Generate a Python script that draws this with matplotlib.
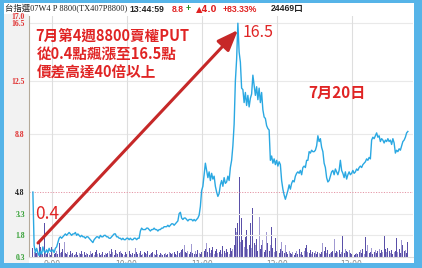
import matplotlib
matplotlib.use("Agg")
import matplotlib.pyplot as plt
from matplotlib.patches import Rectangle
import numpy as np

# ---------------- data ----------------
minutes = list(range(0, 301))  # minutes since 08:45
price = [
    4.8, 1.1, 0.6, 0.9, 0.6, 0.4, 0.7, 0.5, 1.0, 0.7,
    0.6, 0.8, 0.6, 0.9, 0.7, 0.7, 0.8, 0.6, 0.9, 1.0,
    1.3, 1.6, 1.7, 1.6, 1.7, 1.8, 1.9, 1.8, 1.9, 2.0,
    1.9, 1.8, 1.9, 1.9, 2.0, 1.8, 1.9, 1.8, 1.7, 1.8,
    1.7, 1.7, 1.6, 1.7, 1.7, 1.6, 1.5, 1.4, 1.3, 1.5,
    1.6, 1.7, 1.7, 1.6, 1.8, 1.7, 1.7, 1.8, 1.8, 1.7,
    1.7, 1.6, 1.6, 1.7, 1.8, 1.9, 1.9, 1.7, 1.7, 1.6,
    1.6, 1.5, 1.6, 1.5, 1.5, 1.6, 1.6, 1.5, 1.6, 1.5,
    1.5, 1.6, 1.6, 1.5, 1.6, 1.6, 2.1, 2.3, 2.2, 2.2,
    2.2, 2.3, 2.3, 2.2, 2.1, 2.2, 2.2, 2.3, 2.2, 2.2,
    2.1, 2.2, 2.2, 2.3, 2.3, 2.4, 2.4, 2.4, 2.5, 2.4,
    2.5, 2.6, 2.6, 2.5, 2.6, 2.7, 2.8, 3.3, 3.4, 3.0,
    2.9, 3.0, 3.0, 2.9, 2.8, 2.9, 2.9, 2.9, 2.8, 2.9,
    2.8, 2.9, 3.0, 3.2, 3.8, 4.9, 5.2, 6.0, 6.8, 6.3,
    5.8, 6.2, 5.6, 6.1, 5.7, 5.9, 5.2, 4.8, 4.5, 4.7,
    5.3, 5.6, 5.2, 5.8, 5.4, 5.5, 5.9, 5.6, 6.5, 7.0,
    8.0, 9.5, 12.5, 14.0, 16.5, 14.5, 13.8, 12.0, 11.9, 11.0,
    11.7, 10.8, 11.5, 10.7, 11.3, 11.6, 12.9, 12.2, 11.5, 12.1,
    11.2, 12.0, 11.0, 11.7, 10.5, 10.0, 9.9, 9.4, 9.2, 9.1,
    7.0, 7.3, 6.8, 7.1, 6.7, 7.0, 6.6, 6.9, 6.7, 5.6,
    5.0, 4.6, 4.3, 4.6, 4.9, 5.3, 5.0, 5.4, 5.6, 5.5,
    5.9, 6.1, 6.2, 6.1, 6.3, 6.0, 6.5, 6.6, 6.5, 7.0,
    7.0, 7.6, 7.5, 7.7, 7.6, 7.6, 7.7, 8.0, 8.7, 8.3,
    8.5, 7.9, 7.6, 6.8, 6.5, 5.8, 5.5, 5.6, 5.9, 6.2,
    6.3, 6.0, 6.4, 6.2, 6.0, 6.3, 7.0, 6.3, 6.1, 5.8,
    6.2, 5.7, 6.0, 6.2, 6.0, 6.1, 6.3, 6.1, 6.2, 6.4,
    6.3, 6.5, 6.6, 6.5, 6.7, 6.8, 6.9, 7.1, 7.0, 7.2,
    7.1, 8.4, 8.6, 8.5, 8.7, 8.9, 8.6, 8.7, 8.3, 8.5,
    8.4, 8.2, 8.4, 8.3, 8.5, 8.3, 8.4, 8.1, 8.5, 8.2,
    7.5, 7.7, 7.6, 7.8, 7.7, 8.0, 8.3, 8.4, 8.6, 8.9,
    9.0,
]
volume = [
    90, 50, 80, 40, 60, 150, 100, 40, 30, 340, 50, 30, 60, 40, 20, 100, 50, 30, 40, 60,
    30, 140, 40, 50, 80, 150, 40, 30, 50, 20, 60, 30, 40, 20, 30, 50, 20, 40, 30, 60,
    30, 50, 20, 40, 30, 20, 60, 30, 40, 20, 50, 70, 30, 40, 20, 30, 50, 20, 40, 30,
    40, 60, 30, 80, 50, 20, 70, 40, 30, 50, 60, 40, 30, 20, 50, 30, 40, 60, 30, 20,
    40, 30, 90, 50, 30, 40, 60, 20, 30, 50, 40, 30, 60, 20, 30, 40, 50, 30, 20, 70,
    30, 20, 40, 30, 20, 30, 40, 20, 30, 50, 40, 30, 40, 50, 30, 20, 60, 40, 50, 70,
    80, 120, 50, 40, 60, 30, 50, 130, 40, 30, 60, 30, 70, 40, 30, 50, 40, 60, 80, 140,
    50, 90, 40, 70, 100, 30, 60, 80, 40, 50, 70, 30, 110, 60, 40, 80, 50, 30, 90, 60,
    80, 120, 290, 250, 340, 800, 150, 390, 170, 100, 200, 270, 80, 120, 340, 90, 490, 140, 120, 180,
    60, 400, 80, 120, 170, 50, 70, 250, 140, 60, 120, 300, 90, 50, 190, 60, 140, 40, 80, 150,
    60, 40, 120, 50, 30, 60, 40, 30, 50, 20, 40, 60, 30, 80, 30, 50, 20, 60, 90, 120,
    50, 40, 70, 30, 50, 40, 60, 30, 50, 40, 30, 50, 140, 60, 100, 40, 70, 30, 40, 50,
    60, 180, 40, 60, 50, 70, 30, 50, 220, 40, 80, 60, 50, 70, 40, 30, 90, 20, 30, 40,
    30, 50, 70, 40, 80, 30, 200, 60, 120, 40, 50, 90, 30, 50, 70, 40, 60, 80, 40, 70,
    50, 210, 80, 50, 90, 60, 40, 70, 30, 50, 60, 190, 50, 80, 40, 170, 120, 60, 70, 40,
    150,
]
time_ticks = [15, 75, 135, 195, 255]
time_labels = ["9:00", "10:00", "11:00", "12:00", "13:00"]
price_ticks = [0.3, 1.8, 3.3, 4.8, 8.8, 12.5, 16.5, 17.0]
price_tick_labels = ["0.3", "1.8", "3.3", "4.8", "8.8", "12.5", "16.5", "17.0"]
ref_price = 4.8
title_parts = ["台指選07W4 P 8800(TX407P8800)", "13:44:59", "8.8", "+", "▲4.0", "+83.33%", "24469口"]
note_lines = ["7月第4週8800賣權PUT", "從0.4點飆漲至16.5點", "價差高達40倍以上"]
low_label = "0.4"
high_label = "16.5"
date_label = "7月20日"

# ---------------- layout ----------------
W, H = 422, 268
def fx(px):
    return px / W
def fy(py):
    return 1 - py / H

fig = plt.figure(figsize=(W / 100, H / 100), dpi=100)
fig.patch.set_facecolor("white")

# left grey label band
fig.add_artist(Rectangle((fx(4), fy(263)), fx(29) - fx(4), fy(14) - fy(263),
                         transform=fig.transFigure, facecolor="#f2f2f2",
                         edgecolor="none", zorder=-5))

ax = fig.add_axes([fx(29), fy(257), fx(413) - fx(29), fy(16) - fy(257)])
ax2 = ax.twinx()
ax.set_zorder(2)
ax2.set_zorder(1)
ax.patch.set_visible(False)

# volume bars
dark, light = "#5a50a8", "#a19ad2"
bar_colors = [dark if i % 3 != 1 else light for i in range(len(volume))]
ax2.bar(minutes, volume, width=0.85, color=bar_colors, linewidth=0)
ax2.set_ylim(0, 2410)
ax2.set_yticks([])
for s in ax2.spines.values():
    s.set_visible(False)

# grid
for v in [1.8, 3.3, 8.8, 12.5, 16.5]:
    ax.axhline(v, color="#e9e9e9", lw=0.8, zorder=0)
ax.axhline(ref_price, color="#e596a6", lw=0.7, ls=(0, (1.2, 1.5)), zorder=1)
for t in time_ticks:
    ax.axvline(t, color="#dedede", lw=0.8, zorder=0)

# price line
ax.plot(minutes, price, color="#2aa8e2", lw=1.0, zorder=3)

ax.set_xlim(-3.1, 304.1)
ax.set_ylim(0.3, 17.0)

ax.set_yticks(price_ticks)
ax.set_yticklabels(price_tick_labels, family="Liberation Serif",
                   fontweight="bold", fontsize=5.5)
tick_cols = ["#35a035", "#35a035", "#35a035", "#222222",
             "#e03030", "#e03030", "#e03030", "#e03030"]
for lab, c in zip(ax.get_yticklabels(), tick_cols):
    lab.set_color(c)
ax.tick_params(axis="y", length=0, pad=3)
ax.set_xticks(time_ticks)
ax.set_xticklabels(time_labels, fontsize=5.5, color="#888888")
ax.tick_params(axis="x", length=0, pad=2.5)

ax.spines["left"].set_color("#b5aa9a")
ax.spines["left"].set_linewidth(0.8)
ax.spines["bottom"].set_color("#dddddd")
ax.spines["bottom"].set_linewidth(0.8)
ax.spines["top"].set_visible(False)
ax.spines["right"].set_visible(False)

red = "#e02424"
cjk = ["Noto Sans CJK TC", "DejaVu Sans"]
note_y = [15.64, 14.39, 13.1]
note_x = [1.9, 3.5, 3.2]
for txt, xx, yy in zip(note_lines, note_x, note_y):
    ax.text(xx, yy, txt, color=red, fontsize=10.5, family=cjk,
            fontweight="bold", va="center", ha="left", zorder=5)
ax.text(1.7, 3.26, low_label, color=red, fontsize=12.5, family=cjk,
        va="center", ha="left", zorder=5)
ax.text(168.0, 15.85, high_label, color=red, fontsize=11.5, family=cjk,
        va="center", ha="left", zorder=5)
ax.text(220.0, 11.68, date_label, color=red, fontsize=11, family=cjk,
        fontweight="bold", va="center", ha="left", zorder=5)

ax.annotate("", xy=(164.1, 16.03), xytext=(4.1, 1.27),
            arrowprops=dict(arrowstyle="-|>,head_length=0.9,head_width=0.35",
                            color="#c62828", lw=2.2, shrinkA=0, shrinkB=0,
                            mutation_scale=14),
            zorder=6)

# title row
ty = fy(9)
serif_cjk = ["Liberation Serif", "Noto Sans CJK TC"]
sans_b = ["Liberation Sans", "DejaVu Sans", "Noto Sans CJK TC"]
fig.text(fx(5), ty, title_parts[0], fontsize=6, family=serif_cjk,
         color="#222222", va="center", ha="left")
fig.text(fx(129), ty, title_parts[1], fontsize=6.2, family=sans_b,
         fontweight="bold", color="#222222", va="center", ha="left")
fig.text(fx(172), ty, title_parts[2], fontsize=6.2, family=sans_b,
         fontweight="bold", color="#e02020", va="center", ha="left")
fig.text(fx(185.5), ty, title_parts[3], fontsize=6.2, family=sans_b,
         fontweight="bold", color="#209020", va="center", ha="left")
fig.text(fx(196), ty, title_parts[4], fontsize=6.0, family=["DejaVu Sans"],
         fontweight="bold", color="#e02020", va="center", ha="left")
fig.text(fx(223), ty, title_parts[5], fontsize=6.2, family=sans_b,
         fontweight="bold", color="#e02020", va="center", ha="left")
fig.text(fx(271), ty, title_parts[6], fontsize=6.2, family=sans_b,
         fontweight="bold", color="#222222", va="center", ha="left")

# blue frame
frame = "#56b4e8"
for (x0, y0, x1, y1) in [(0, 0, 422, 3), (0, 0, 4, 268), (414, 0, 422, 268), (0, 263, 422, 268)]:
    fig.add_artist(Rectangle((fx(x0), fy(y1)), fx(x1) - fx(x0), fy(y0) - fy(y1),
                             transform=fig.transFigure, facecolor=frame,
                             edgecolor="none", zorder=50))

fig.savefig("out.png", dpi=100)
